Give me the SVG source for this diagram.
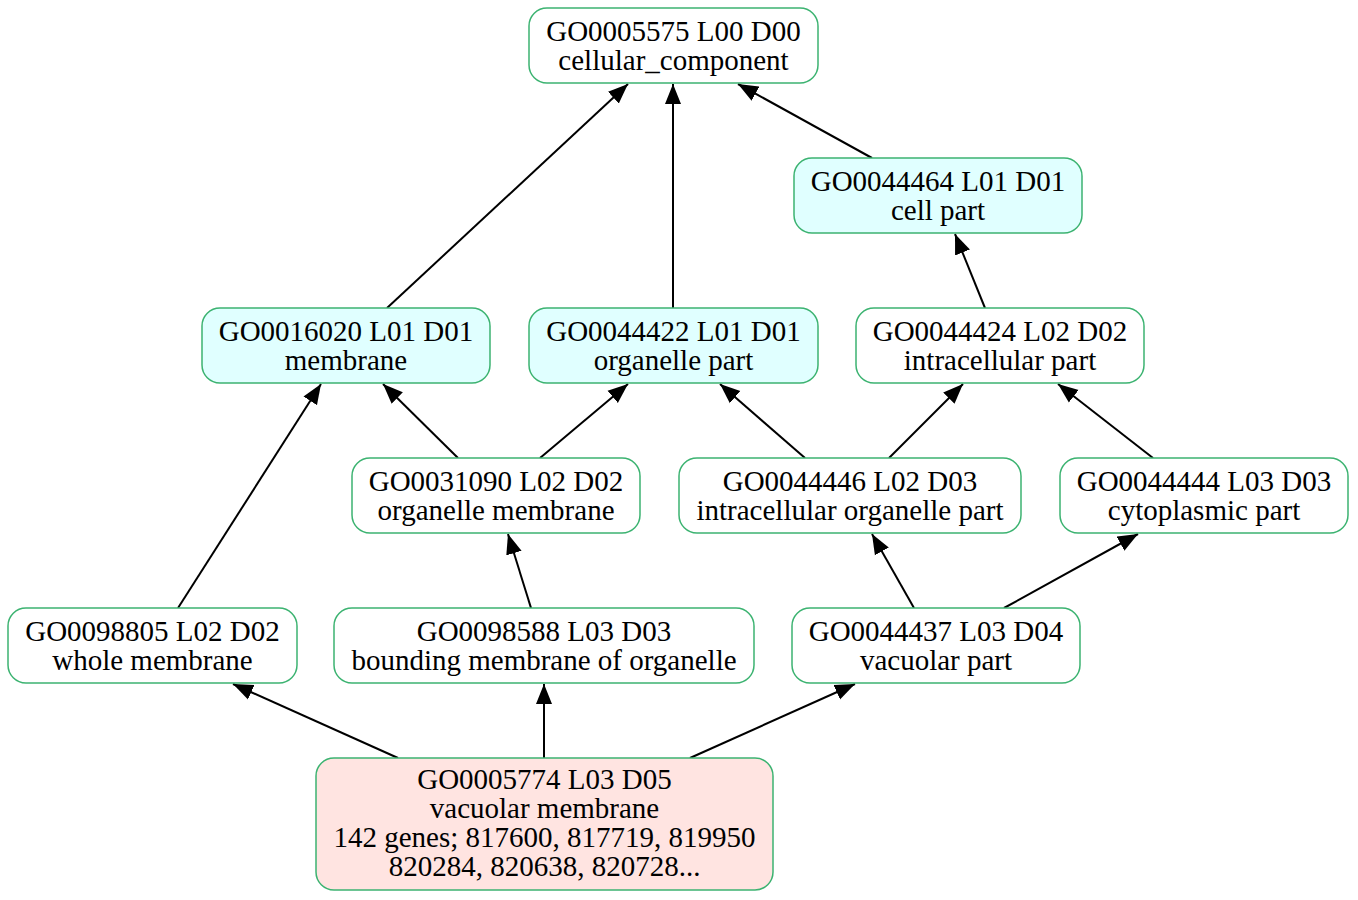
<svg xmlns="http://www.w3.org/2000/svg" width="1358" height="900" viewBox="0 0 1358 900">
<style>
.n rect{stroke:#3cb371;stroke-width:1.5;fill:#ffffff}
.n.c rect{fill:#e0ffff}
.n.p rect{fill:#ffe4e1}
.n text{font-family:"Liberation Serif","Times New Roman",serif;font-size:29px;fill:#000;text-anchor:middle}
.e line{stroke:#000;stroke-width:2;marker-end:url(#ah)}
</style>
<defs>
<marker id="ah" markerUnits="userSpaceOnUse" markerWidth="22" markerHeight="18" refX="20" refY="9" orient="auto">
<path d="M0,1 L20,9 L0,17 Z" fill="#000"/>
</marker>
</defs>
<rect width="1358" height="900" fill="#fff"/>
<g id="connectors" class="e">
<line x1="387" y1="308" x2="628" y2="84"/>
<line x1="673" y1="308" x2="673" y2="84"/>
<line x1="872" y1="158" x2="738" y2="84"/>
<line x1="985" y1="308" x2="955" y2="234"/>
<line x1="458" y1="458" x2="383" y2="384"/>
<line x1="540" y1="458" x2="628" y2="384"/>
<line x1="805" y1="458" x2="720" y2="384"/>
<line x1="889" y1="458" x2="963" y2="384"/>
<line x1="1153" y1="458" x2="1058" y2="384"/>
<line x1="178" y1="608" x2="321" y2="384"/>
<line x1="531" y1="608" x2="508" y2="534"/>
<line x1="914" y1="608" x2="872" y2="534"/>
<line x1="1004" y1="608" x2="1138" y2="534"/>
<line x1="398" y1="758" x2="233" y2="684"/>
<line x1="544" y1="758" x2="544" y2="684"/>
<line x1="690" y1="758" x2="855" y2="684"/>
</g>
<g id="GO0005575" class="n"><rect x="529" y="8" width="289" height="75" rx="18"/><text x="673.5" y="41">GO0005575 L00 D00</text><text x="673.5" y="70">cellular_component</text></g>
<g id="GO0044464" class="n c"><rect x="794" y="158" width="288" height="75" rx="18"/><text x="938" y="191">GO0044464 L01 D01</text><text x="938" y="220">cell part</text></g>
<g id="GO0016020" class="n c"><rect x="202" y="308" width="288" height="75" rx="18"/><text x="346" y="341">GO0016020 L01 D01</text><text x="346" y="370">membrane</text></g>
<g id="GO0044422" class="n c"><rect x="529" y="308" width="289" height="75" rx="18"/><text x="673.5" y="341">GO0044422 L01 D01</text><text x="673.5" y="370">organelle part</text></g>
<g id="GO0044424" class="n"><rect x="856" y="308" width="288" height="75" rx="18"/><text x="1000" y="341">GO0044424 L02 D02</text><text x="1000" y="370">intracellular part</text></g>
<g id="GO0031090" class="n"><rect x="352" y="458" width="288" height="75" rx="18"/><text x="496" y="491">GO0031090 L02 D02</text><text x="496" y="520">organelle membrane</text></g>
<g id="GO0044446" class="n"><rect x="679" y="458" width="342" height="75" rx="18"/><text x="850" y="491">GO0044446 L02 D03</text><text x="850" y="520">intracellular organelle part</text></g>
<g id="GO0044444" class="n"><rect x="1060" y="458" width="288" height="75" rx="18"/><text x="1204" y="491">GO0044444 L03 D03</text><text x="1204" y="520">cytoplasmic part</text></g>
<g id="GO0098805" class="n"><rect x="8" y="608" width="289" height="75" rx="18"/><text x="152.5" y="641">GO0098805 L02 D02</text><text x="152.5" y="670">whole membrane</text></g>
<g id="GO0098588" class="n"><rect x="334" y="608" width="420" height="75" rx="18"/><text x="544" y="641">GO0098588 L03 D03</text><text x="544" y="670">bounding membrane of organelle</text></g>
<g id="GO0044437" class="n"><rect x="792" y="608" width="288" height="75" rx="18"/><text x="936" y="641">GO0044437 L03 D04</text><text x="936" y="670">vacuolar part</text></g>
<g id="GO0005774" class="n p"><rect x="316" y="758" width="457" height="132" rx="18"/><text x="544.5" y="789">GO0005774 L03 D05</text><text x="544.5" y="818">vacuolar membrane</text><text x="544.5" y="847">142 genes; 817600, 817719, 819950</text><text x="544.5" y="876">820284, 820638, 820728...</text></g>
</svg>
